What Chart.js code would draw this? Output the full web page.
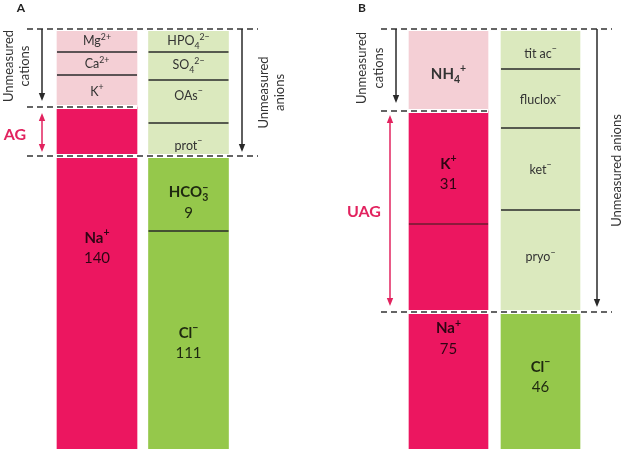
<!DOCTYPE html>
<html><head><meta charset="utf-8">
<script src="https://cdn.jsdelivr.net/npm/chart.js@4"></script>
<style>
html,body{margin:0;padding:0;background:#fff;}
#wrap{position:relative;width:624px;height:449px;overflow:hidden;background:#fff;}
canvas{position:absolute;top:0;}
</style></head><body>
<div id="wrap">
<canvas id="ca" width="310" height="449" style="left:0;width:310px;height:449px"></canvas>
<canvas id="cb" width="314" height="449" style="left:310px;width:314px;height:449px"></canvas>
</div>
<script>
// ---------- DATA (schematic segment heights, listed bottom -> top) ----------
const categories = ['Cations', 'Anions'];

// Panel A
const aCatNames   = ['Na^{+}', 'K^{+}', 'Ca^{2+}', 'Mg^{2+}'];
const aCatValues  = ['140', '', '', ''];
const aCatHeights = [342, 32, 23, 23];
const aCatMeasured = 1;   // bottom segments that are measured
const aAnNames    = ['Cl^{−}', 'HCO~_{3}~^{−}', 'prot^{−}', 'OAs^{−}', 'SO_{4}^{2−}', 'HPO_{4}^{2−}'];
const aAnValues   = ['111', '9', '', '', '', ''];
const aAnHeights  = [218, 75, 33, 43, 28, 23];
const aAnMeasured = 2;

// Panel B
const bCatNames   = ['Na^{+}', 'K^{+}', 'NH_{4}^{+}'];
const bCatValues  = ['75', '31', ''];
const bCatHeights = [225, 113, 82];
const bCatMeasured = 2;
const bAnNames    = ['Cl^{−}', 'pryo^{−}', 'ket^{−}', 'fluclox^{−}', 'tit ac^{−}'];
const bAnValues   = ['46', '', '', '', ''];
const bAnHeights  = [137, 102, 82, 59, 40];
const bAnMeasured = 1;

// ---------- STYLE ----------
const FONT = 'Lato, "Open Sans", sans-serif';
const COL = {
  catMeas: '#ec1660', catUn: '#f4cfd5',
  anMeas: '#95c84b', anUn: '#dbe9be',
  pink: '#e2235f', ink: '#2a2a2a'
};
const labelFrac = {
  aCat: [0.41, 0.5, 0.5, 0.5],
  aAn:  [0.51, 0.61, 0.67, 0.35, 0.45, 0.5],
  bCat: [0.507, 0.55, 0.54],
  bAn:  [0.47, 0.46, 0.5, 0.52, 0.6]
};

// ---------- helpers ----------
function layoutRich(ctx, s, size, weight) {
  const toks = s.match(/_\{[^}]*\}|\^\{[^}]*\}|~|[^_^~{}]+/g) || [];
  const items = []; let cx = 0; let stack = false; let prev = null;
  for (const t of toks) {
    if (t === '~') { if (prev && prev.mode !== 'n') stack = true; continue; }
    let mode = 'n', txt = t;
    if (t.startsWith('_{')) { mode = 'sub'; txt = t.slice(2, -1); }
    else if (t.startsWith('^{')) { mode = 'sup'; txt = t.slice(2, -1); }
    const fs = mode === 'n' ? size : size * 0.7;
    ctx.font = `${weight} ${fs}px ${FONT}`;
    const w = ctx.measureText(txt).width;
    let x0 = cx;
    if (stack && prev) { x0 = prev.x; cx = Math.max(prev.x + prev.w, x0 + w); stack = false; }
    else cx = x0 + w;
    const dy = mode === 'sub' ? size * 0.28 : mode === 'sup' ? -size * 0.42 : 0;
    const it = { txt, x: x0, w, fs, dy, mode };
    items.push(it); prev = it;
  }
  return { items, width: cx };
}
function drawRich(ctx, s, x, y, size, weight, color) {
  const L = layoutRich(ctx, s, size, weight);
  const x0 = x - L.width / 2;
  ctx.fillStyle = color; ctx.textAlign = 'left'; ctx.textBaseline = 'alphabetic';
  const base = y + size * 0.36;
  for (const it of L.items) {
    ctx.font = `${weight} ${it.fs}px ${FONT}`;
    ctx.fillText(it.txt, x0 + it.x, base + it.dy);
  }
}
function hline(ctx, x1, x2, y, dashed) {
  ctx.save();
  if (dashed) {
    ctx.strokeStyle = '#ffffff'; ctx.lineWidth = 4; ctx.setLineDash([]);
    ctx.beginPath(); ctx.moveTo(x1, y); ctx.lineTo(x2, y); ctx.stroke();
    ctx.strokeStyle = '#333'; ctx.lineWidth = 1.6; ctx.setLineDash([6, 4]);
  }
  ctx.beginPath(); ctx.moveTo(x1, y); ctx.lineTo(x2, y); ctx.stroke();
  ctx.restore();
}
function head(ctx, x, y, dir) {
  ctx.beginPath(); ctx.moveTo(x, y); ctx.lineTo(x - 3.2, y - dir * 8); ctx.lineTo(x + 3.2, y - dir * 8); ctx.closePath(); ctx.fill();
}
function arrow(ctx, x, y1, y2, color, both) {
  ctx.save(); ctx.strokeStyle = color; ctx.fillStyle = color; ctx.lineWidth = 1.5;
  ctx.beginPath(); ctx.moveTo(x, both ? y1 + 6 : y1); ctx.lineTo(x, y2 - 6); ctx.stroke();
  head(ctx, x, y2, 1); if (both) head(ctx, x, y1, -1);
  ctx.restore();
}
function vtext(ctx, lines, x0, dx, cy, size, color) {
  ctx.save(); ctx.fillStyle = color; ctx.font = `400 ${size}px ${FONT}`;
  ctx.textAlign = 'center'; ctx.textBaseline = 'middle';
  lines.forEach((ln, i) => {
    ctx.save(); ctx.translate(x0 + i * dx, cy); ctx.rotate(-Math.PI / 2); ctx.fillText(ln, 0, 0); ctx.restore();
  });
  ctx.restore();
}

// ---------- chart factory ----------
function makePanel(canvasId, cat, an, pad, thickness, annotate) {
  const datasets = [];
  cat.heights.forEach((h, i) => datasets.push({
    data: [h, null], col: 0, idx: i,
    backgroundColor: i < cat.measured ? COL.catMeas : COL.catUn
  }));
  an.heights.forEach((h, i) => datasets.push({
    data: [null, h], col: 1, idx: i,
    backgroundColor: i < an.measured ? COL.anMeas : COL.anUn
  }));
  const segPlugin = {
    id: 'segs',
    afterDatasetsDraw(chart) {
      const ctx = chart.ctx;
      const cols = [[], []];
      chart.data.datasets.forEach((ds, di) => {
        const el = chart.getDatasetMeta(di).data[ds.col];
        cols[ds.col][ds.idx] = el;
      });
      const specs = [cat, an];
      const geo = {};
      cols.forEach((els, c) => {
        const sp = specs[c];
        const half = els[0].width / 2, xc = els[0].x;
        els.forEach((el, j) => {
          if (j === 0 || j === sp.measured) return;
          ctx.save();
          const inRed = (j < sp.measured && c === 0);
          ctx.strokeStyle = inRed ? '#8c1a3c' : COL.ink;
          ctx.lineWidth = inRed ? 2 : 1.7;
          ctx.beginPath(); ctx.moveTo(xc - half, el.base); ctx.lineTo(xc + half, el.base); ctx.stroke();
          ctx.restore();
        });
        els.forEach((el, j) => {
          const top = el.y;
          const cy = top + (el.base - top) * sp.frac[j];
          const meas = j < sp.measured || sp.bold[j];
          const color = j < sp.measured ? 'rgba(0,0,0,0.8)' : '#333';
          if (sp.values[j]) {
            drawRich(ctx, sp.names[j], xc, cy - 10, 15, 700, color);
            ctx.save(); ctx.font = `400 15px ${FONT}`; ctx.fillStyle = color;
            ctx.textAlign = 'center'; ctx.textBaseline = 'middle';
            ctx.fillText(sp.values[j], xc, cy + 11); ctx.restore();
          } else {
            drawRich(ctx, sp.names[j], xc, cy, meas ? 15 : 12.5, meas ? 700 : 400, color);
          }
        });
        geo[c] = { top: els[els.length - 1].y, meas: els[sp.measured - 1].y, x: xc, half };
      });
      annotate(ctx, geo);
    }
  };
  return new Chart(document.getElementById(canvasId), {
    type: 'bar',
    data: { labels: categories, datasets },
    options: {
      responsive: false, animation: false, devicePixelRatio: 1,
      layout: { padding: { left: pad[0], right: pad[1], top: 0, bottom: 0 } },
      plugins: { legend: { display: false }, tooltip: { enabled: false } },
      datasets: { bar: { barThickness: thickness, categoryPercentage: 1, barPercentage: 1, borderWidth: 0 } },
      scales: {
        x: { stacked: true, display: false },
        y: { stacked: true, display: false, min: 0, max: 449 }
      }
    },
    plugins: [segPlugin]
  });
}

// Panel A
makePanel('ca',
  { heights: aCatHeights, names: aCatNames, values: aCatValues, measured: aCatMeasured, frac: labelFrac.aCat, bold: [] },
  { heights: aAnHeights, names: aAnNames, values: aAnValues, measured: aAnMeasured, frac: labelFrac.aAn, bold: [] },
  [51.25, 75.75], 80,
  (ctx, g) => {
    const yTop = g[0].top, yC = g[0].meas, yA = g[1].meas;
    hline(ctx, 27, 258, yTop, true);
    hline(ctx, 27, 137, yC, true);
    hline(ctx, 27, 258, yA, true);
    arrow(ctx, 42, yTop, yC - 6, COL.ink, false);
    arrow(ctx, 242, yTop, yA - 4, COL.ink, false);
    arrow(ctx, 42, yC + 6, yA - 4, COL.pink, true);
    ctx.save(); ctx.fillStyle = COL.pink; ctx.font = `700 16px ${FONT}`;
    ctx.textAlign = 'center'; ctx.textBaseline = 'middle';
    ctx.fillText('AG', 15, (yC + yA) / 2 + 3); ctx.restore();
    vtext(ctx, ['Unmeasured', 'cations'], 9, 16, (yTop + yC) / 2 - 2, 13, '#333');
    vtext(ctx, ['Unmeasured', 'anions'], 264, 16, (yTop + yA) / 2, 13, '#333');
    ctx.save(); ctx.fillStyle = '#222'; ctx.font = `700 12px ${FONT}`; ctx.textAlign = 'center'; ctx.textBaseline = 'middle';
    ctx.fillText('A', 21, 8); ctx.restore();
  });

// Panel B
makePanel('cb',
  { heights: bCatHeights, names: bCatNames, values: bCatValues, measured: bCatMeasured, frac: labelFrac.bCat, bold: [false, false, true] },
  { heights: bAnHeights, names: bAnNames, values: bAnValues, measured: bAnMeasured, frac: labelFrac.bAn, bold: [] },
  [92.5, 37.5], 79,
  (ctx, g) => {
    const yTop = g[0].top, yC = g[0].meas, yA = g[1].meas;
    hline(ctx, 71, 302, yTop, true);
    hline(ctx, 71, 178, yC, true);
    hline(ctx, 71, 302, yA, true);
    arrow(ctx, 86, yTop, yC - 8, COL.ink, false);
    arrow(ctx, 287, yTop, yA - 5, COL.ink, false);
    arrow(ctx, 80, yC + 4, yA - 6, COL.pink, true);
    ctx.save(); ctx.fillStyle = COL.pink; ctx.font = `700 16px ${FONT}`;
    ctx.textAlign = 'center'; ctx.textBaseline = 'middle';
    ctx.fillText('UAG', 54, (yC + yA) / 2); ctx.restore();
    vtext(ctx, ['Unmeasured', 'cations'], 52, 17, (yTop + yC) / 2 - 2, 13, '#333');
    vtext(ctx, ['Unmeasured anions'], 307, 16, (yTop + yA) / 2, 13, '#333');
    ctx.save(); ctx.fillStyle = '#222'; ctx.font = `700 12px ${FONT}`; ctx.textAlign = 'center'; ctx.textBaseline = 'middle';
    ctx.fillText('B', 52, 8); ctx.restore();
  });
</script>
</body></html>
